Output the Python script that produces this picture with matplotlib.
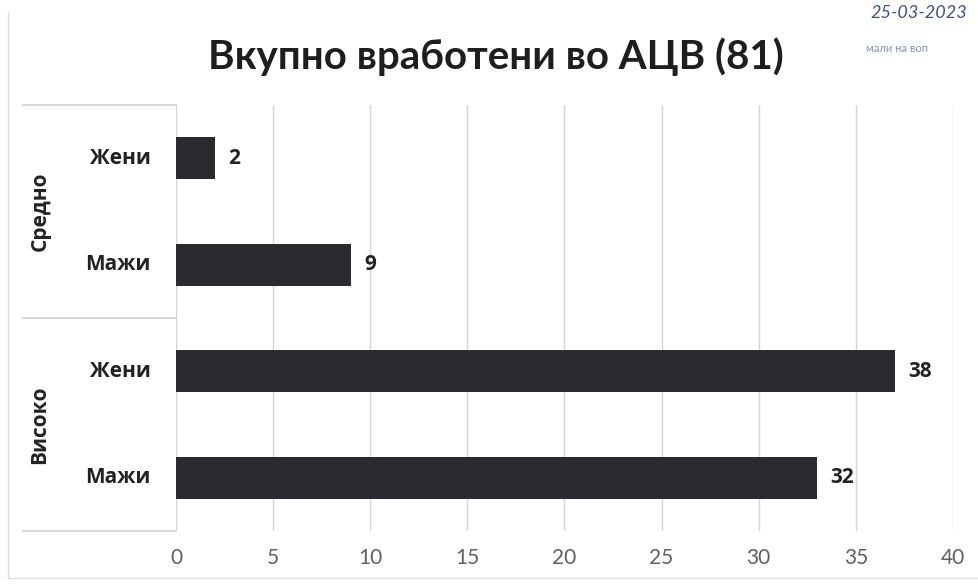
import matplotlib.pyplot as plt

# data (bar lengths as drawn, labels as printed)
groups = ["Средно", "Високо"]
categories = ["Жени", "Мажи", "Жени", "Мажи"]
bar_lengths = [2, 9, 37, 33]
value_labels = ["2", "9", "38", "32"]
xticks = [0, 5, 10, 15, 20, 25, 30, 35, 40]

plt.rcParams['font.family'] = ['Lato', 'DejaVu Sans']
LBL = ['Open Sans', 'DejaVu Sans']

W, H = 979, 584
fig = plt.figure(figsize=(W / 100, H / 100), dpi=100)

# plot area in pixels: x 176..953 for 0..40, y 105..531
x0, x1, ytop, ybot = 176, 953, 105, 531
ax = fig.add_axes([x0 / W, 1 - ybot / H, (x1 - x0) / W, (ybot - ytop) / H])

ypos = list(range(len(categories)))
ax.barh(ypos, bar_lengths, height=0.39, color="#2b2a30", zorder=3)
ax.set_xlim(0, 40)
ax.set_ylim(3.5, -0.5)
ax.set_xticks(xticks)
ax.set_xticklabels([str(t) for t in xticks], fontsize=15, color="#606060")
ax.tick_params(axis="x", length=0, pad=12)
ax.set_yticks([])
ax.grid(axis="x", color="#d6d6d6", linewidth=1, zorder=0)
for s in ax.spines.values():
    s.set_visible(False)

for y, w, lab in zip(ypos, bar_lengths, value_labels):
    ax.text(w + 0.7, y, lab, va="center", ha="left", fontsize=15, family=LBL,
            fontweight="bold", color="#222222")

# category labels
for y, c in zip(ypos, categories):
    ax.text(-1.3, y, c, va="center", ha="right", fontsize=15, family=LBL,
            fontweight="bold", color="#222222")

# group labels and separators
left = (23 - x0) / (x1 - x0)
for i, g in enumerate(groups):
    ax.text(left + 0.022, 0.75 - 0.5 * i, g, transform=ax.transAxes, rotation=90,
            va="center", ha="center", fontsize=15, family=LBL,
            fontweight="bold", color="#222222")
for yy in [0, 0.5, 1.0]:
    ax.plot([left, 0], [yy, yy], transform=ax.transAxes, color="#cfcfcf",
            linewidth=1.2, clip_on=False)

fig.text(496 / W, 1 - 57 / H, "Вкупно вработени во АЦВ (81)", ha="center",
         va="center", fontsize=29, fontweight="bold", color="#1e1e1e")

# chart border (scan)
fig.add_artist(plt.Line2D([8 / W, 8 / W], [1 - 578 / H, 1 - 12 / H], color="#dddddd", lw=1))
fig.add_artist(plt.Line2D([8 / W, 1], [1 - 578 / H, 1 - 578 / H], color="#dddddd", lw=1))

# handwritten date stamp at the top right
fig.text(870 / W, 1 - 13 / H, "25-03-2023", ha="left", va="center",
         fontsize=13, style="italic", color="#3b4fa0")
fig.text(866 / W, 1 - 48 / H, "мали на воп", ha="left", va="center",
         fontsize=8, color="#8a93b8")

fig.savefig("out.png", dpi=100)
